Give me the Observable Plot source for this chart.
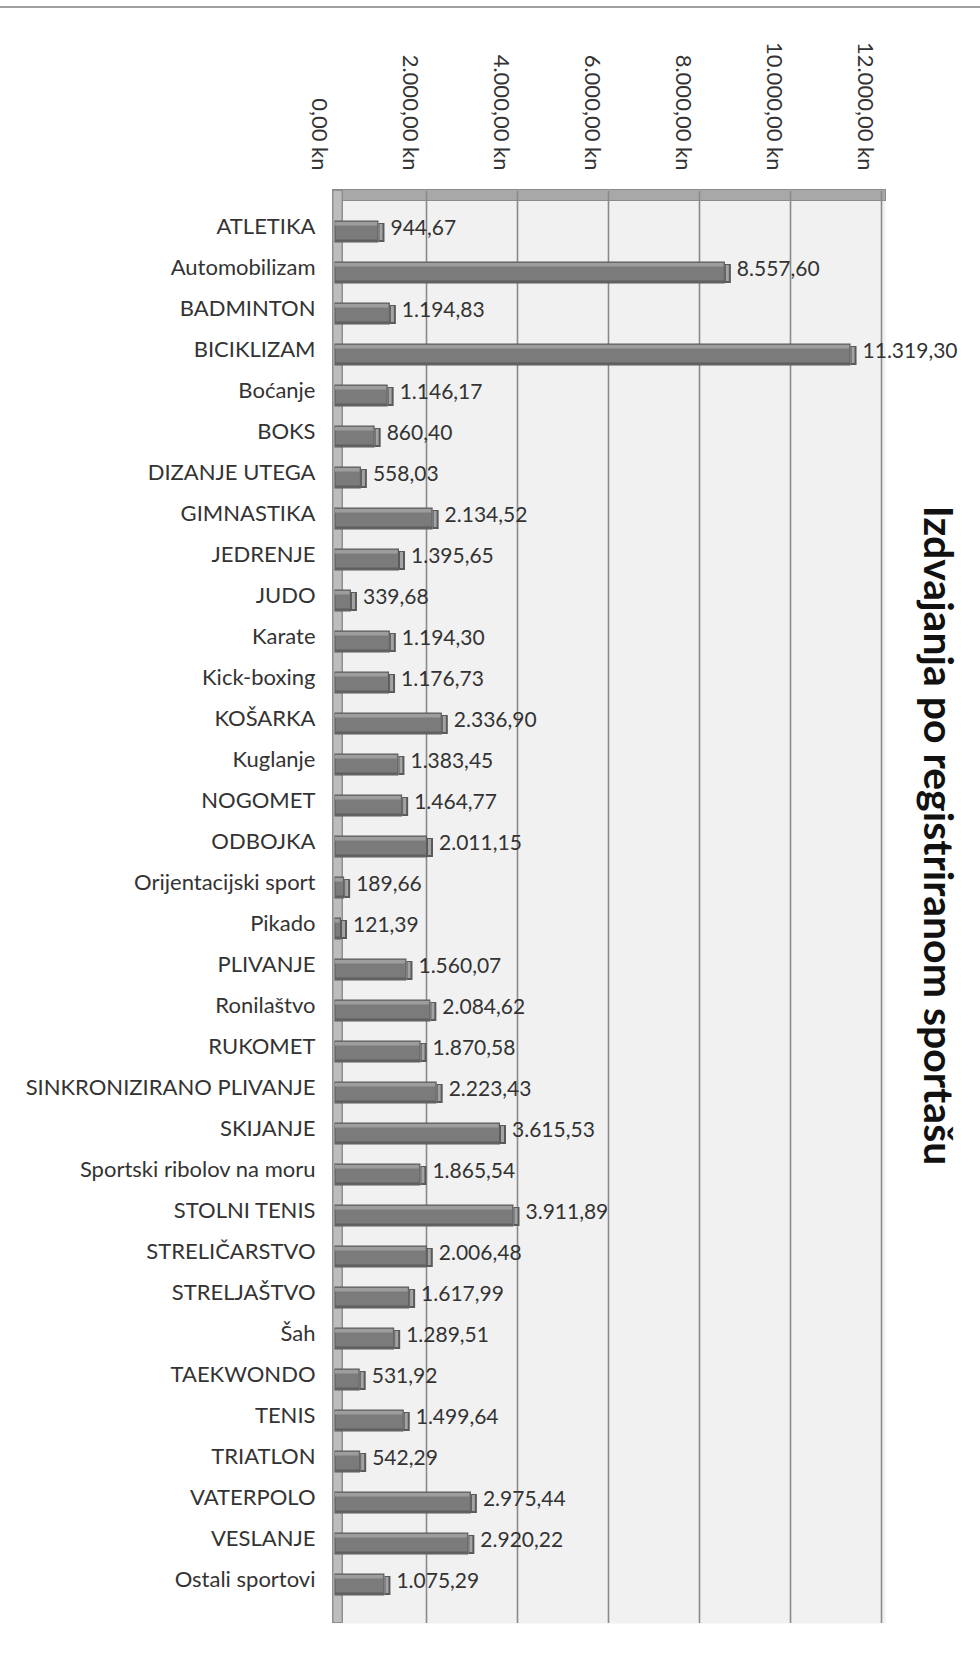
<!DOCTYPE html>
<html>
<head>
<meta charset="utf-8">
<script src="https://cdn.jsdelivr.net/npm/d3@7"></script>
<script src="https://cdn.jsdelivr.net/npm/@observablehq/plot@0.6"></script>
<style>
  html, body { margin: 0; padding: 0; background: #ffffff; }
  #wrap { position: relative; width: 980px; height: 1668px; }
  #topline { position: absolute; left: 0; top: 6px; width: 980px; height: 2px; background: #a0a0a0; }
</style>
</head>
<body>
<div id="wrap"><div id="topline"></div></div>
<script>
const categories = [
  "ATLETIKA", "Automobilizam", "BADMINTON", "BICIKLIZAM", "Boćanje", "BOKS",
  "DIZANJE UTEGA", "GIMNASTIKA", "JEDRENJE", "JUDO", "Karate", "Kick-boxing",
  "KOŠARKA", "Kuglanje", "NOGOMET", "ODBOJKA", "Orijentacijski sport", "Pikado",
  "PLIVANJE", "Ronilaštvo", "RUKOMET", "SINKRONIZIRANO PLIVANJE", "SKIJANJE",
  "Sportski ribolov na moru", "STOLNI TENIS", "STRELIČARSTVO", "STRELJAŠTVO",
  "Šah", "TAEKWONDO", "TENIS", "TRIATLON", "VATERPOLO", "VESLANJE", "Ostali sportovi"
];
const values = [
  944.67, 8557.60, 1194.83, 11319.30, 1146.17, 860.40,
  558.03, 2134.52, 1395.65, 339.68, 1194.30, 1176.73,
  2336.90, 1383.45, 1464.77, 2011.15, 189.66, 121.39,
  1560.07, 2084.62, 1870.58, 2223.43, 3615.53,
  1865.54, 3911.89, 2006.48, 1617.99,
  1289.51, 531.92, 1499.64, 542.29, 2975.44, 2920.22, 1075.29
];
const xTicks = [0, 2000, 4000, 6000, 8000, 10000, 12000];
const title = "Izdvajanja po registriranom sportašu";

const hr = d3.formatLocale({decimal: ",", thousands: ".", grouping: [3], currency: ["", " kn"]});
const fmt = hr.format(",.2f");
const data = categories.map((c, i) => ({sport: c, value: values[i]}));

const H = 1668, mt = 198, mb = 49;
const plotH = H - mt - mb;

const chart = Plot.plot({
  width: 980,
  height: H,
  marginLeft: 335,
  marginRight: 99,
  marginTop: mt,
  marginBottom: mb,
  style: {fontFamily: "Lato, 'Open Sans', sans-serif", color: "#333", background: "transparent", overflow: "visible"},
  x: {domain: [0, 12000], axis: null},
  y: {domain: categories, paddingInner: 0.476, paddingOuter: 0.238, axis: null},
  marks: [
    // back wall
    Plot.frame({fill: "#f1f1f1", insetTop: -8, insetBottom: -4, insetRight: -4, insetLeft: -3}),
    // top edge of the wall
    Plot.frame({fill: "#a8a8a8", stroke: "#8c8c8c", insetTop: -9, insetBottom: plotH - 2, insetRight: -4, insetLeft: -3}),
    // grid lines
    Plot.ruleX(xTicks.slice(1), {stroke: "#8a8a8a", strokeWidth: 1.6, insetTop: -7, insetBottom: -4}),
    // left side wall
    Plot.ruleX([0], {stroke: "#8f8f8f", strokeWidth: 11, dx: 2, insetTop: -8, insetBottom: -4}),
    Plot.ruleX([0], {stroke: "#bdbdbd", strokeWidth: 8, dx: 2, insetTop: -7, insetBottom: -3}),
    // bars (3D look)
    Plot.barX(data, {x: "value", y: "sport", fill: "#7b7b7b", stroke: "#5a5a5a", strokeWidth: 1}),
    Plot.barX(data, {x: "value", y: "sport", fill: "#9d9d9d", insetTop: 1, insetBottom: 16.5, insetRight: 1}),
    Plot.barX(data, {x: "value", y: "sport", fill: "#5e5e5e", insetTop: 18.5, insetBottom: 0.5}),
    Plot.tickX(data, {x: "value", y: "sport", stroke: "#5a5a5a", strokeWidth: 6, dx: 3, insetTop: 2, insetBottom: 0}),
    Plot.tickX(data, {x: "value", y: "sport", stroke: "#a3a3a3", strokeWidth: 3, dx: 2.5, insetTop: 3, insetBottom: 2}),
    // value labels
    Plot.text(data, {x: "value", y: "sport", text: d => fmt(d.value), textAnchor: "start", dx: 12, dy: -4, fontSize: 21, fill: "#333"}),
    // axes
    Plot.axisY({anchor: "left", tickSize: 0, tickPadding: 20, fontSize: 22, dy: -5, label: null}),
    Plot.axisX({anchor: "top", ticks: xTicks, tickRotate: 90, tickSize: 0, tickPadding: 28, dx: -16, fontSize: 22, label: null, tickFormat: d => fmt(d) + " kn"}),
    // rotated title
    Plot.text([title], {frameAnchor: "right", textAnchor: "middle", dx: 56, dy: 835 - (mt + plotH / 2), rotate: 90, fontSize: 41, fontWeight: "bold", fill: "#111"})
  ]
});
chart.style.position = "absolute";
chart.style.left = "0px";
chart.style.top = "0px";
document.getElementById("wrap").appendChild(chart);
</script>
</body>
</html>
